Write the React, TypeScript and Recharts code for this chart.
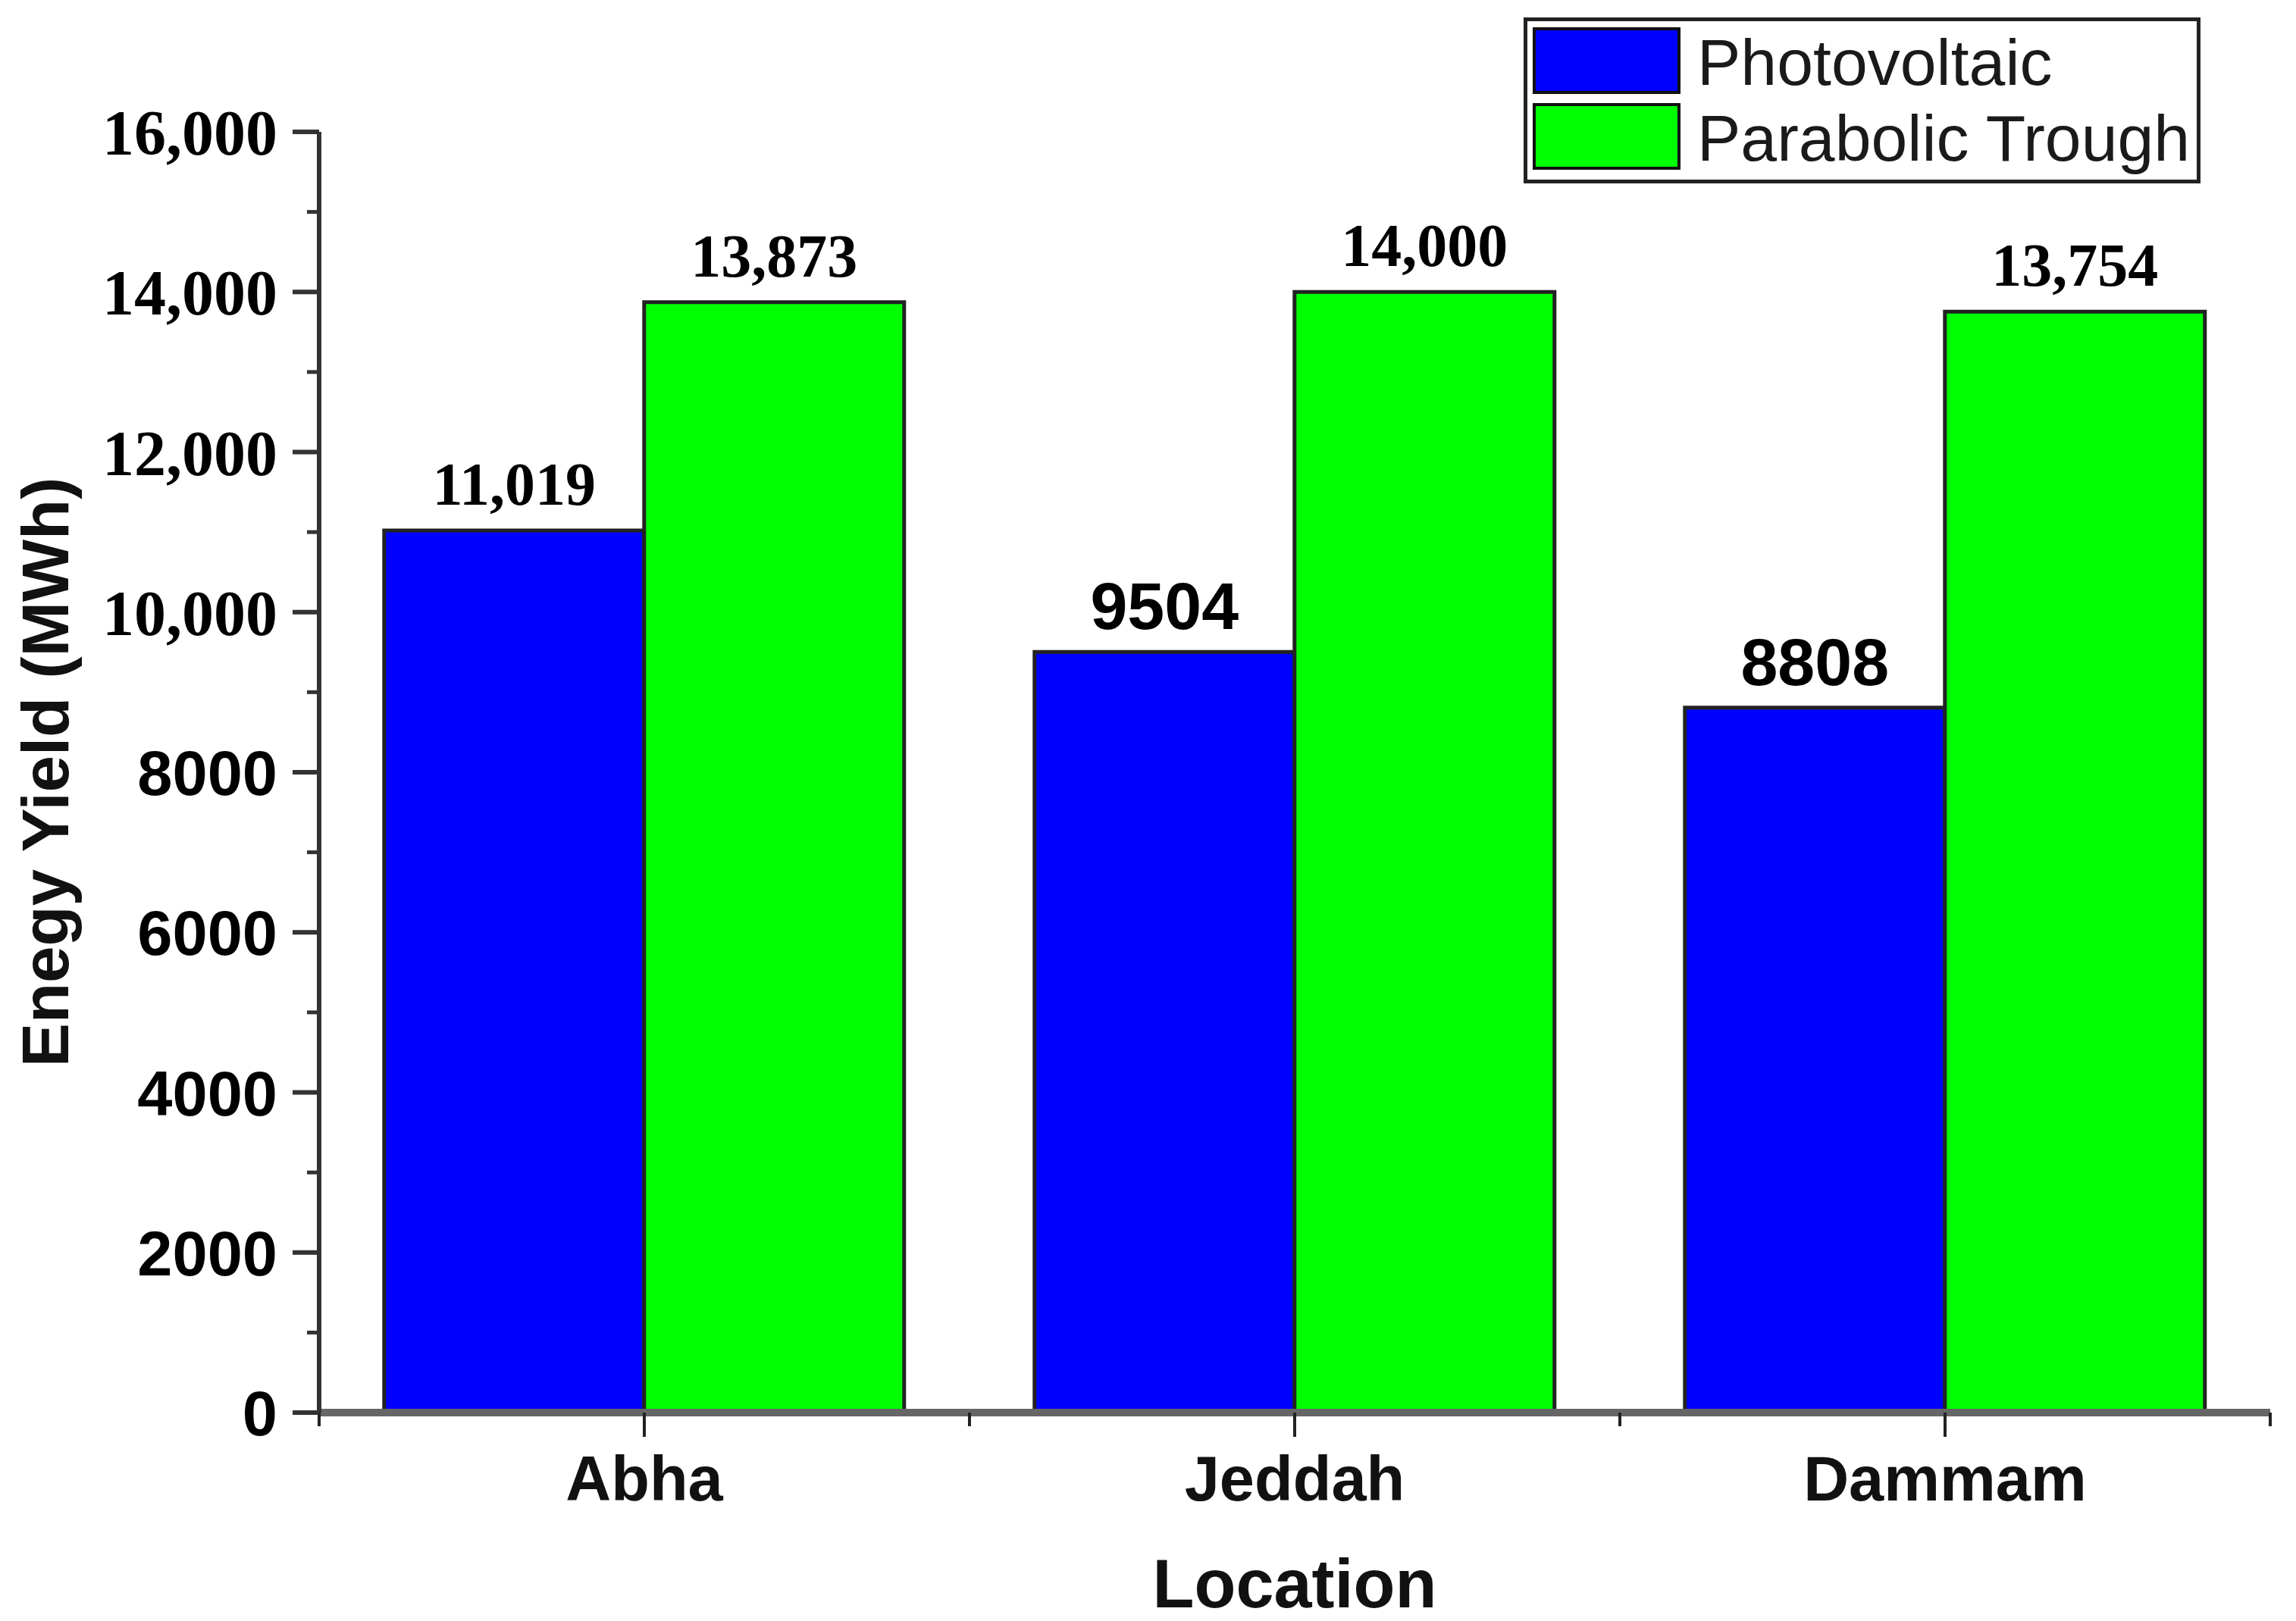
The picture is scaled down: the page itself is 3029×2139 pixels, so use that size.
import { BarChart, Bar, XAxis, YAxis, Legend, LabelList, Label } from "recharts"

// values
const locations = ["Abha", "Jeddah", "Dammam"]
const photovoltaic = [11019, 9504, 8808]
const parabolicTrough = [13873, 14000, 13754]
const seriesKeys = ["pv", "pt"]
const yTicks = [0, 1000, 2000, 3000, 4000, 5000, 6000, 7000, 8000, 9000, 10000, 11000, 12000, 13000, 14000, 15000, 16000]

const data = locations.map((loc, i) => ({ loc, pv: photovoltaic[i], pt: parabolicTrough[i] }))

const W = 3029
const H = 2139
const PLOT_LEFT = 421
const PLOT_RIGHT = 2995
const PLOT_TOP = 174
const PLOT_BOTTOM = 1864
const Y_AXIS_W = 300
const X_AXIS_H = 200
const BAND = (PLOT_RIGHT - PLOT_LEFT) / locations.length

const SANS = "'Liberation Sans', Arial, sans-serif"
const SERIF = "'Liberation Serif', 'Times New Roman', serif"

// the big numbers were typed in a serif face with a comma, the rest in bold sans
const isSerif = (v: number) => v >= 10000
const fmt = (v: number) => (v >= 10000 ? v.toLocaleString("en-US") : String(v))

const YTick = (props: any) => {
  const { x, y, payload } = props
  const v = payload.value
  const major = v % 2000 === 0
  const serif = isSerif(v)
  return (
    <g>
      <line x1={x - (major ? 35 : 16)} x2={x} y1={y} y2={y} stroke="#333" strokeWidth={major ? 6 : 5} />
      {major && (
        <text x={x - 55} y={y + 30} textAnchor="end" fontFamily={serif ? SERIF : SANS} fontWeight="bold" fontSize={serif ? 84 : 83} fill="#000">
          {fmt(v)}
        </text>
      )}
    </g>
  )
}

const XTick = (props: any) => {
  const { x, y, payload, index } = props
  return (
    <g>
      <line x1={x} x2={x} y1={y} y2={y + 32} stroke="#222" strokeWidth={4} />
      <line x1={x - BAND / 2} x2={x - BAND / 2} y1={y} y2={y + 18} stroke="#222" strokeWidth={4} />
      {index === locations.length - 1 && (
        <line x1={x + BAND / 2} x2={x + BAND / 2} y1={y} y2={y + 18} stroke="#222" strokeWidth={4} />
      )}
      <text x={x} y={y + 116} textAnchor="middle" fontFamily={SANS} fontWeight="bold" fontSize={83} fill="#111">
        {payload.value}
      </text>
    </g>
  )
}

const renderValue = (props: any) => {
  const { x, y, width, value } = props
  const serif = isSerif(value)
  return (
    <text x={x + width / 2} y={y - (serif ? 34 : 30)} textAnchor="middle" fontFamily={serif ? SERIF : SANS} fontWeight="bold" fontSize={serif ? 80 : 88} fill="#000">
      {fmt(value)}
    </text>
  )
}

const LegendBox = (props: any) => {
  const items = [...(props.payload || [])].sort(
    (a: any, b: any) => seriesKeys.indexOf(a.dataKey) - seriesKeys.indexOf(b.dataKey)
  )
  return (
    <div style={{ width: 893, height: 219, border: "5px solid #222", boxSizing: "border-box", background: "#fff", position: "relative" }}>
      {items.map((it: any, i: number) => (
        <div key={i}>
          <div style={{ position: "absolute", left: 7, top: 8 + i * 100, width: 195, height: 88, background: it.color, border: "4px solid #111", boxSizing: "border-box" }} />
          <div style={{ position: "absolute", left: 224, top: i * 100 + 4, fontFamily: SANS, fontSize: 86, lineHeight: "100px", color: "#1a1a1a", whiteSpace: "nowrap" }}>
            {it.value}
          </div>
        </div>
      ))}
    </div>
  )
}

export default function App() {
  return (
    <div style={{ position: "absolute", left: 0, top: 0, background: "#fff" }}>
      <BarChart
        width={W}
        height={H}
        data={data}
        barCategoryGap="10%"
        barGap={0}
        margin={{ top: PLOT_TOP, right: W - PLOT_RIGHT, bottom: H - PLOT_BOTTOM - X_AXIS_H, left: PLOT_LEFT - Y_AXIS_W }}
      >
        <XAxis
          dataKey="loc"
          height={X_AXIS_H}
          tickLine={false}
          tickSize={0}
          tickMargin={0}
          tick={<XTick />}
          axisLine={{ stroke: "#666", strokeWidth: 10 }}
        >
          <Label
            content={() => (
              <text x={(PLOT_LEFT + PLOT_RIGHT) / 2} y={2121} textAnchor="middle" fontFamily={SANS} fontWeight="bold" fontSize={90} fill="#111">
                Location
              </text>
            )}
          />
        </XAxis>
        <YAxis
          width={Y_AXIS_W}
          domain={[0, 16000]}
          ticks={yTicks}
          interval={0}
          tickLine={false}
          tickSize={0}
          tickMargin={0}
          tick={<YTick />}
          axisLine={{ stroke: "#333", strokeWidth: 6 }}
        >
          <Label
            content={() => (
              <text transform={`translate(90, ${(PLOT_TOP + PLOT_BOTTOM) / 2}) rotate(-90)`} textAnchor="middle" fontFamily={SANS} fontWeight="bold" fontSize={87} fill="#111">
                Enegy Yield (MWh)
              </text>
            )}
          />
        </YAxis>
        <Legend
          layout="horizontal"
          verticalAlign="middle"
          align="center"
          content={<LegendBox />}
          wrapperStyle={{ position: "absolute", left: 2010, top: 23, width: 893, height: 219 }}
        />
        <Bar dataKey="pv" name="Photovoltaic" fill="#0000FF" stroke="#222" strokeWidth={5} isAnimationActive={false}>
          <LabelList dataKey="pv" content={renderValue} />
        </Bar>
        <Bar dataKey="pt" name="Parabolic Trough" fill="#00FF00" stroke="#222" strokeWidth={5} isAnimationActive={false}>
          <LabelList dataKey="pt" content={renderValue} />
        </Bar>
      </BarChart>
    </div>
  )
}
